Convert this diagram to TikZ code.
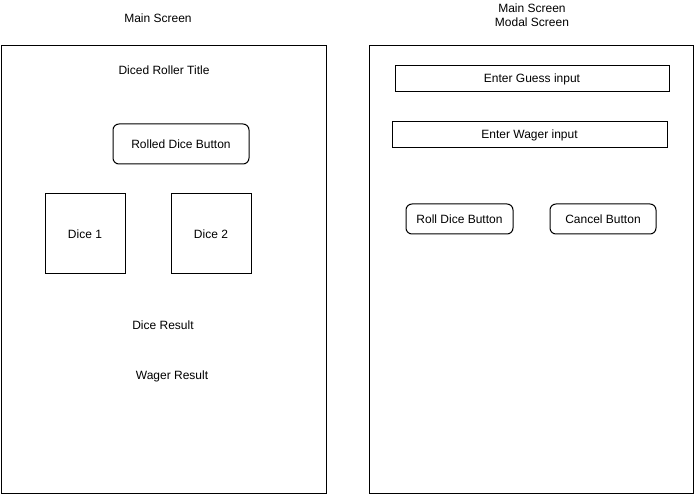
\documentclass[tikz,border=0pt]{standalone}
\usepackage{fontspec}
\setmainfont{Liberation Sans}
\usetikzlibrary{positioning}

\begin{document}
\begin{tikzpicture}[x=1pt, y=-1pt,
                  every node/.style={font=\fontsize{12}{14}\selectfont, inner sep=0pt},
                  frame/.style={draw, line width=1pt, minimum height=447pt},
                  field/.style={draw, line width=1pt, minimum height=26pt, minimum width=274pt},
                  btn/.style={draw, line width=1pt, rounded corners=6pt, minimum height=30pt},
                  dice/.style={draw, line width=1pt, minimum width=80pt, minimum height=80pt},
                  lbl/.style={align=center},
            ]
            \useasboundingbox (0,0) rectangle (696,494);

            % main screen
            \node[frame, minimum width=325pt] (mainframe) at (163.5,269.5) {};
            \node[lbl] (maintitle) at (158,18) {Main Screen};
            \node[lbl] (rollertitle) at (164,70) {Diced Roller Title};
            \node[btn, minimum width=136pt, minimum height=40pt] (rolled) at (181,144) {Rolled Dice Button};
            \node[dice] (dice1) at (85,234) {Dice 1};
            \node[dice] (dice2) at (211,234) {Dice 2};
            \node[lbl] (diceresult) at (163,325) {Dice Result};
            \node[lbl] (wagerresult) at (172,376) {Wager Result};

            % modal screen
            \node[frame, minimum width=324pt] (modalframe) at (531,269.5) {};
            \node[lbl] (modaltitle) at (532,15) {Main Screen\\Modal Screen};
            \node[field] (guess) at (532,79) {Enter Guess input};
            \node[field, minimum width=275pt] (wager) at (529.5,135) {Enter Wager input};
            \node[btn, minimum width=107pt] (rolldice) at (459.5,219) {Roll Dice Button};
            \node[btn, minimum width=106pt] (cancel) at (603,219) {Cancel Button};

      \end{tikzpicture}
\end{document}
